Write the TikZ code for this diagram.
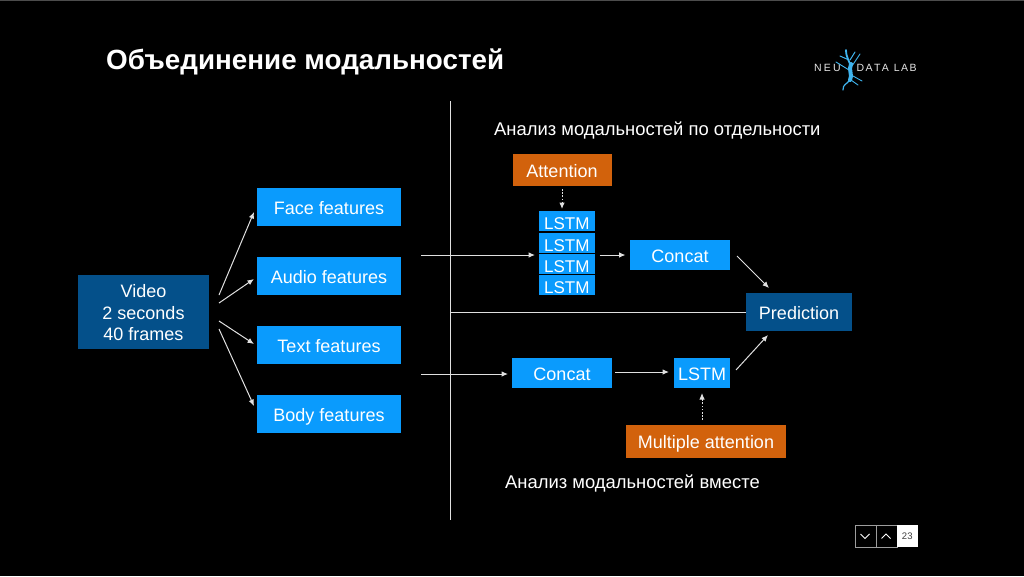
\documentclass[tikz,border=0pt]{standalone}
\usepackage{fontspec}
\setmainfont{Liberation Sans}
\usetikzlibrary{arrows.meta,positioning}
\definecolor{navy}{HTML}{04508A}
\definecolor{sky}{HTML}{0A9BFD}
\definecolor{rust}{HTML}{D2620C}
\definecolor{lineg}{HTML}{E0E0E0}
\definecolor{neuron}{HTML}{3FB4EE}
\tikzset{
  x=1pt,y=-1pt,
  box/.style={inner sep=0,outer sep=0,text=white,font=\fontsize{18}{21.5}\selectfont,align=center,anchor=north west},
  flow/.style={draw=lineg,line width=1pt,-{Latex[length=6.5pt,width=5.5pt]}},
  dots/.style={flow,dash pattern=on 1.6pt off 1.6pt},
  rulel/.style={draw=lineg,line width=.8pt},
  captext/.style={text=white,font=\fontsize{18.4}{20}\selectfont,anchor=west,inner sep=0},
  logotext/.style={text=white!90!black,anchor=base west,inner sep=0,font=\fontsize{10.5}{12}\selectfont},
  navbox/.style={draw=lineg!70!black,line width=.9pt,fill=black,minimum width=21pt,minimum height=22pt,inner sep=0,anchor=north west},
  chev/.style={draw=white,line width=1pt},
  nrn/.style={draw=neuron,line cap=round,line join=round},
  lstmbox/.style={box,fill=sky,minimum width=56.5pt,minimum height=20pt,font=\fontsize{17}{20}\selectfont},
}
\newcommand{\bx}[7]{\node[box,fill=#6,minimum width=#4pt,minimum height=#5pt] (#1) at (#2,#3) {\raisebox{0pt}[19pt][4pt]{#7}};}
\newcommand{\lowln}[1]{\raisebox{-1pt}[\height][\depth]{#1}}
\newcommand{\lstmtext}{\raisebox{-3pt}[\height][\depth]{LSTM}}
\begin{document}
\begin{tikzpicture}
\useasboundingbox (0,0) rectangle (1024,576);
\fill[black] (0,0) rectangle (1024,576);
\draw[draw=black!70!white,line width=.6pt] (0,0.3) -- (1024,0.3);

\node[text=white,anchor=base west,inner sep=0,font=\fontsize{27.8}{30}\selectfont\bfseries] (title) at (106,69) {Объединение модальностей};

% logo
\node[logotext] (logoa) at (814,71.5) {N\kern2.2pt E\kern2.2pt U};
\node[logotext] (logob) at (856.5,71.5) {D\kern1.4pt A\kern1.4pt T\kern1.4pt A\kern5pt L\kern1.4pt A\kern1.4pt B};
\draw[nrn,line width=1.8pt] (846,50) .. controls (846,58) and (850,62) .. (851,67);
\draw[nrn,line width=4pt] (851,64) .. controls (848,70) and (853,75) .. (850,80);
\draw[nrn,line width=1.2pt] (850,80) .. controls (846,85) and (843,84) .. (843,90);
\draw[nrn,line width=1pt] (850,60) -- (855,52);
\draw[nrn,line width=1pt] (849,60) -- (840,56);
\draw[nrn,line width=.9pt] (852,66) -- (860,54);
\draw[nrn,line width=.9pt] (853,76) -- (862,81);
\draw[nrn,line width=.9pt] (851,80) -- (858,85);
\draw[nrn,line width=.9pt] (849,70) -- (836,62);

% left column
\node[box,fill=navy,minimum width=131pt,minimum height=74pt] (video) at (78,275) {\lowln{Video}\\\lowln{2 seconds}\\\lowln{40 frames}};
\bx{face}{257}{188}{144}{38}{sky}{Face features}
\bx{audio}{257}{257}{144}{38}{sky}{Audio features}
\bx{textf}{257}{326}{144}{38}{sky}{Text features}
\bx{body}{257}{395}{144}{38}{sky}{Body features}

% right part, top
\bx{att}{512.5}{154}{99}{32}{rust}{Attention}
\node[lstmbox] (l1) at (538.5,211) {\lstmtext};
\node[lstmbox] (l2) at (538.5,233) {\lstmtext};
\node[lstmbox] (l3) at (538.5,254) {\lstmtext};
\node[lstmbox] (l4) at (538.5,275) {\lstmtext};
\bx{cona}{630}{239.5}{100}{30}{sky}{Concat}
\bx{pred}{746}{293}{106}{38}{navy}{Prediction}

% right part, bottom
\bx{conb}{512}{358}{100}{30}{sky}{Concat}
\bx{lstmb}{674}{358}{56}{30}{sky}{LSTM}
\bx{matt}{626}{424.5}{160}{33}{rust}{Multiple attention}

\node[captext] (capa) at (494,131) {Анализ модальностей по отдельности};
\node[captext] (capb) at (505,483) {Анализ модальностей вместе};

% rules
\coordinate (vtop) at (450,101);
\coordinate (vbot) at (450,520);
\coordinate (vmid) at (450,312);
\draw[rulel] (vtop) -- (vbot);
\draw[rulel] (vmid) -- (pred.west);

% connectors
\coordinate (v1) at (219,295); \coordinate (f1) at (254,212);
\coordinate (v2) at (219,303); \coordinate (a1) at (254,279);
\coordinate (v3) at (219,321); \coordinate (t1) at (254,344);
\coordinate (v4) at (219,329); \coordinate (b1) at (254,406);
\draw[flow] (v1) -- (f1);
\draw[flow] (v2) -- (a1);
\draw[flow] (v3) -- (t1);
\draw[flow] (v4) -- (b1);

\coordinate (in1) at (421,255); \coordinate (in1e) at (535,255);
\coordinate (in2) at (421,374); \coordinate (in2e) at (508,374);
\draw[flow] (in1) -- (in1e);
\draw[flow] (in2) -- (in2e);

\coordinate (ls) at (599.5,255); \coordinate (ce) at (625.5,255);
\draw[flow] (ls) -- (ce);
\coordinate (cs) at (737,256); \coordinate (pe) at (769,288);
\draw[flow] (cs) -- (pe);
\coordinate (bs) at (615,372); \coordinate (be) at (669,372);
\draw[flow] (bs) -- (be);
\coordinate (ps) at (736,370); \coordinate (pf) at (768,335);
\draw[flow] (ps) -- (pf);
\coordinate (ms) at (702,420); \coordinate (me) at (702,393);
\draw[dots] (ms) -- (me);
\coordinate (as) at (562,189); \coordinate (ae) at (562,209);
\draw[dots] (as) -- (ae);

% page navigation
\node[navbox] (down) at (854.5,525) {};
\node[navbox] (up) at (875.5,525) {};
\node[inner sep=0,outer sep=0,fill=white,minimum width=21.5pt,minimum height=22pt,anchor=north west,text=black!75,font=\fontsize{9.5}{11}\selectfont] (page) at (896.5,525) {23};
\draw[chev] (860.5,534) -- (865,538.5) -- (869.5,534);
\draw[chev] (881.5,538.5) -- (886,534) -- (890.5,538.5);
\end{tikzpicture}
\end{document}
